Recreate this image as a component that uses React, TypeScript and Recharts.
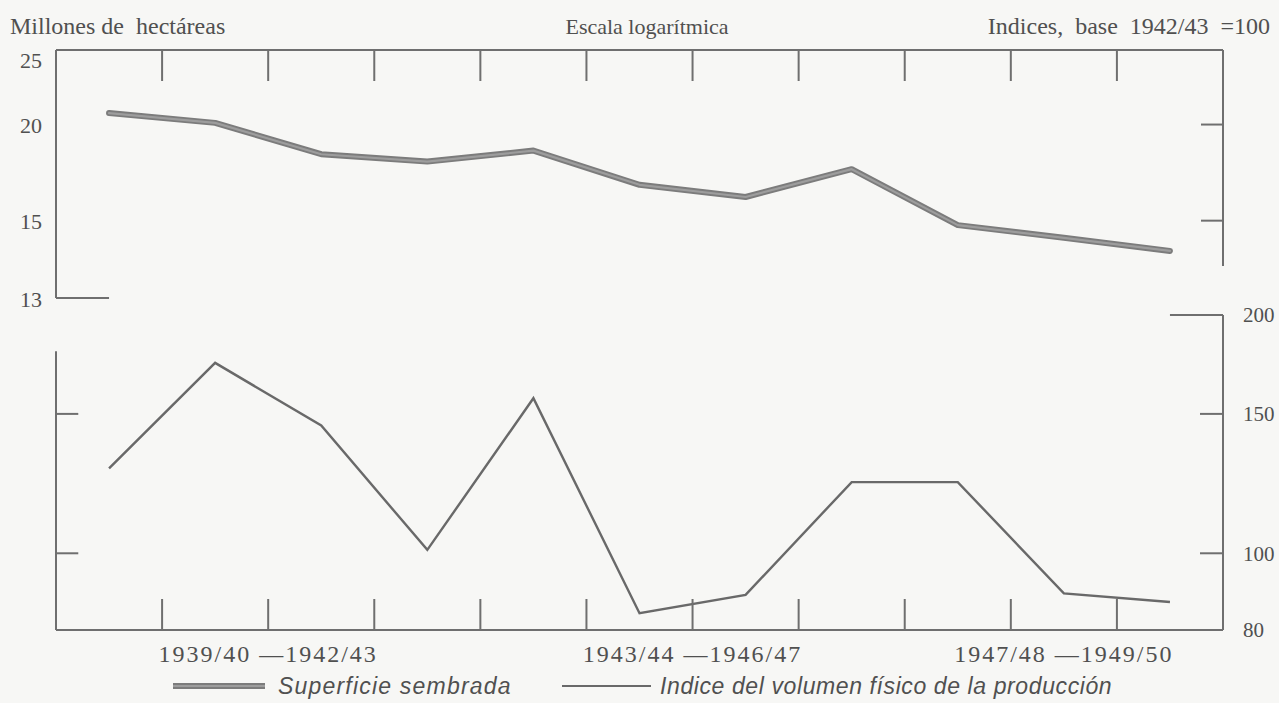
import React from "react";
import { LineChart, Line, XAxis, YAxis, ReferenceLine } from "recharts";

// ---------- data ----------
const seasons = [
  "1939/40", "1940/41", "1941/42", "1942/43", "1943/44", "1944/45",
  "1945/46", "1946/47", "1947/48", "1948/49", "1949/50",
];
// Superficie sembrada (millones de hectáreas)
const superficie = [20.7, 20.1, 18.3, 17.9, 18.5, 16.7, 16.1, 17.5, 14.8, 14.25, 13.7];
// Indice del volumen físico de la producción (1942/43 = 100)
const indice = [128, 174, 145, 101, 157, 84, 88.6, 123, 123, 89, 86.8];

const topDomain = [11.9, 25];
const topTicks = [11.9, 15, 20, 25];
const topTickLabels = ["13", "15", "20", "25"];
const topInnerTicks = [15, 20];
const topRightEnd = 13.1;

const bottomDomain = [80, 200];
const bottomTicks = [80, 100, 150, 200];
const bottomTickLabels = ["80", "100", "150", "200"];
const bottomInnerTicks = [100, 150];
const bottomLeftStart = 180;

const periodLabels = ["1939/40 —1942/43", "1943/44 —1946/47", "1947/48 —1949/50"];
const periodFrom = [0, 4, 8];
const periodTo = [3, 7, 10];

const headerLeft = "Millones de  hectáreas";
const headerCenter = "Escala logarítmica";
const headerRight = "Indices,  base  1942/43  =100";
const legendSup = "Superficie sembrada";
const legendIdx = "Indice del volumen físico de la producción";

// ---------- derived ----------
const data = seasons.map((s, i) => ({ i, season: s, sup: superficie[i], idx: indice[i] }));
const columnBreaks = seasons.slice(1).map((_, k) => k + 0.5);
const xDomain = [-0.5, seasons.length - 0.5];
const periodCenters = periodLabels.map((_, k) => (periodFrom[k] + periodTo[k]) / 2);
const innerTickLen = 0.21; // in column units (~22px)

// ---------- style ----------
const W = 1279;
const H = 703;
const PL = 56;
const PR = 1222;
const BG = "#f7f7f5";
const AXIS = "#6f6f6f";
const TEXT = "#505050";
const SERIF = "'Liberation Serif', 'DejaVu Serif', serif";
const SANS = "'Liberation Sans', Arial, sans-serif";
const axisStyle = { stroke: AXIS, strokeWidth: 2 };

const EmptyTick = () => <g />;

const TopLeftTick = (props: any) => {
  const { x, y, payload } = props;
  const k = topTicks.indexOf(payload.value);
  const extra = payload.value === topDomain[1] ? 10 : 1;
  return (
    <text x={x} y={y + extra} dy="0.35em" textAnchor="end" fill={TEXT} fontFamily={SERIF} fontSize={22}>
      {topTickLabels[k]}
    </text>
  );
};

const BottomRightTick = (props: any) => {
  const { x, y, payload } = props;
  const k = bottomTicks.indexOf(payload.value);
  return (
    <text x={x} y={y} dy="0.35em" textAnchor="start" fill={TEXT} fontFamily={SERIF} fontSize={21}>
      {bottomTickLabels[k]}
    </text>
  );
};

const PeriodTick = (props: any) => {
  const { x, y, payload } = props;
  const k = periodCenters.indexOf(payload.value);
  return (
    <text x={x} y={y + 32} textAnchor="middle" fill={TEXT} fontFamily={SERIF} fontSize={24} letterSpacing={2}>
      {periodLabels[k]}
    </text>
  );
};

function TopChart() {
  // axes take 1px each; margins compensate so the plot box is 56..1222 x 51..298
  return (
    <LineChart width={W} height={H} data={data} margin={{ top: 50, bottom: H - 298, left: PL - 1, right: W - PR - 1 }}>
      <XAxis
        xAxisId="x" dataKey="i" type="number" domain={xDomain} allowDataOverflow
        orientation="top" mirror height={1} ticks={columnBreaks} interval={0}
        tick={<EmptyTick />} tickSize={31} axisLine={axisStyle} tickLine={axisStyle}
      />
      <YAxis
        yAxisId="l" type="number" scale="log" domain={topDomain} allowDataOverflow
        ticks={topTicks} interval={0} width={1} tickSize={0} tickMargin={14}
        tickLine={false} axisLine={axisStyle} tick={<TopLeftTick />}
      />
      <YAxis
        yAxisId="r" orientation="right" mirror type="number" scale="log" domain={topDomain}
        allowDataOverflow ticks={topInnerTicks} interval={0} width={1} tickSize={22}
        tick={<EmptyTick />} axisLine={false} tickLine={axisStyle}
      />
      <ReferenceLine
        xAxisId="x" yAxisId="l" ifOverflow="visible" {...axisStyle}
        segment={[{ x: xDomain[0], y: topDomain[0] }, { x: 0, y: topDomain[0] }]}
      />
      <ReferenceLine
        xAxisId="x" yAxisId="l" ifOverflow="visible" {...axisStyle}
        segment={[{ x: xDomain[1], y: topDomain[1] }, { x: xDomain[1], y: topRightEnd }]}
      />
      <Line
        xAxisId="x" yAxisId="l" dataKey="sup" type="linear" stroke="#7c7c7c" strokeWidth={6}
        dot={false} isAnimationActive={false} strokeLinejoin="round" strokeLinecap="round"
      />
      <Line
        xAxisId="x" yAxisId="l" dataKey="sup" type="linear" stroke="#9d9d9d" strokeWidth={2.2}
        dot={false} isAnimationActive={false} strokeLinejoin="round" strokeLinecap="round"
      />
    </LineChart>
  );
}

function BottomChart() {
  return (
    <LineChart width={W} height={H} data={data} margin={{ top: 315, bottom: H - 629 - 2, left: PL - 1, right: W - PR - 2 }}>
      <XAxis
        xAxisId="x" dataKey="i" type="number" domain={xDomain} allowDataOverflow
        orientation="bottom" mirror height={1} ticks={columnBreaks} interval={0}
        tick={<EmptyTick />} tickSize={31} axisLine={axisStyle} tickLine={axisStyle}
      />
      <XAxis
        xAxisId="p" dataKey="i" type="number" domain={xDomain} allowDataOverflow orientation="bottom"
        height={1} ticks={periodCenters} interval={0} tickSize={0} tickMargin={0}
        axisLine={false} tickLine={false} tick={<PeriodTick />}
      />
      <YAxis
        yAxisId="l" type="number" scale="log" domain={bottomDomain} allowDataOverflow
        ticks={bottomInnerTicks} interval={0} width={1}
        tick={<EmptyTick />} axisLine={false} tickLine={false}
      />
      <YAxis
        yAxisId="r" orientation="right" type="number" scale="log" domain={bottomDomain}
        allowDataOverflow ticks={bottomTicks} interval={0} width={1} tickSize={0} tickMargin={20}
        tickLine={false} axisLine={axisStyle} tick={<BottomRightTick />}
      />
      <YAxis
        yAxisId="rm" orientation="right" mirror type="number" scale="log" domain={bottomDomain}
        allowDataOverflow ticks={bottomInnerTicks} interval={0} width={1} tickSize={23}
        tick={<EmptyTick />} axisLine={false} tickLine={axisStyle}
      />
      <ReferenceLine
        xAxisId="x" yAxisId="l" ifOverflow="visible" {...axisStyle}
        segment={[{ x: xDomain[0], y: bottomLeftStart }, { x: xDomain[0], y: bottomDomain[0] }]}
      />
      {bottomInnerTicks.map((v) => (
        <ReferenceLine
          key={v} xAxisId="x" yAxisId="l" ifOverflow="visible" {...axisStyle}
          segment={[{ x: xDomain[0], y: v }, { x: xDomain[0] + innerTickLen, y: v }]}
        />
      ))}
      <ReferenceLine
        xAxisId="x" yAxisId="l" ifOverflow="visible" {...axisStyle}
        segment={[{ x: seasons.length - 1, y: bottomDomain[1] }, { x: xDomain[1], y: bottomDomain[1] }]}
      />
      <Line
        xAxisId="x" yAxisId="l" dataKey="idx" type="linear" stroke="#696969" strokeWidth={2.4}
        dot={false} isAnimationActive={false} strokeLinejoin="miter"
      />
    </LineChart>
  );
}

export default function App() {
  const layer: React.CSSProperties = { position: "absolute", left: 0, top: 0 };
  return (
    <div style={{ position: "absolute", left: 0, top: 0, width: W, height: H, background: BG, overflow: "hidden" }}>
      <div style={layer}><TopChart /></div>
      <div style={layer}><BottomChart /></div>
      <svg width={W} height={H} style={{ ...layer, pointerEvents: "none" }}>
        <text x={10} y={34} fill={TEXT} fontFamily={SERIF} fontSize={24} style={{ whiteSpace: "pre" }}>{headerLeft}</text>
        <text x={647} y={34} fill={TEXT} fontFamily={SERIF} fontSize={22} textAnchor="middle">{headerCenter}</text>
        <text x={1270} y={34} fill={TEXT} fontFamily={SERIF} fontSize={24} textAnchor="end" style={{ whiteSpace: "pre" }}>{headerRight}</text>
        <line x1={173} y1={686} x2={265} y2={686} stroke="#7c7c7c" strokeWidth={6} />
        <line x1={173} y1={686} x2={265} y2={686} stroke="#9d9d9d" strokeWidth={2.2} />
        <text x={278} y={694} fill={TEXT} fontFamily={SANS} fontStyle="italic" fontSize={23} letterSpacing={1.2}>{legendSup}</text>
        <line x1={562} y1={686} x2={651} y2={686} stroke="#696969" strokeWidth={2} />
        <text x={660} y={694} fill={TEXT} fontFamily={SANS} fontStyle="italic" fontSize={23} letterSpacing={0.6}>{legendIdx}</text>
      </svg>
    </div>
  );
}
